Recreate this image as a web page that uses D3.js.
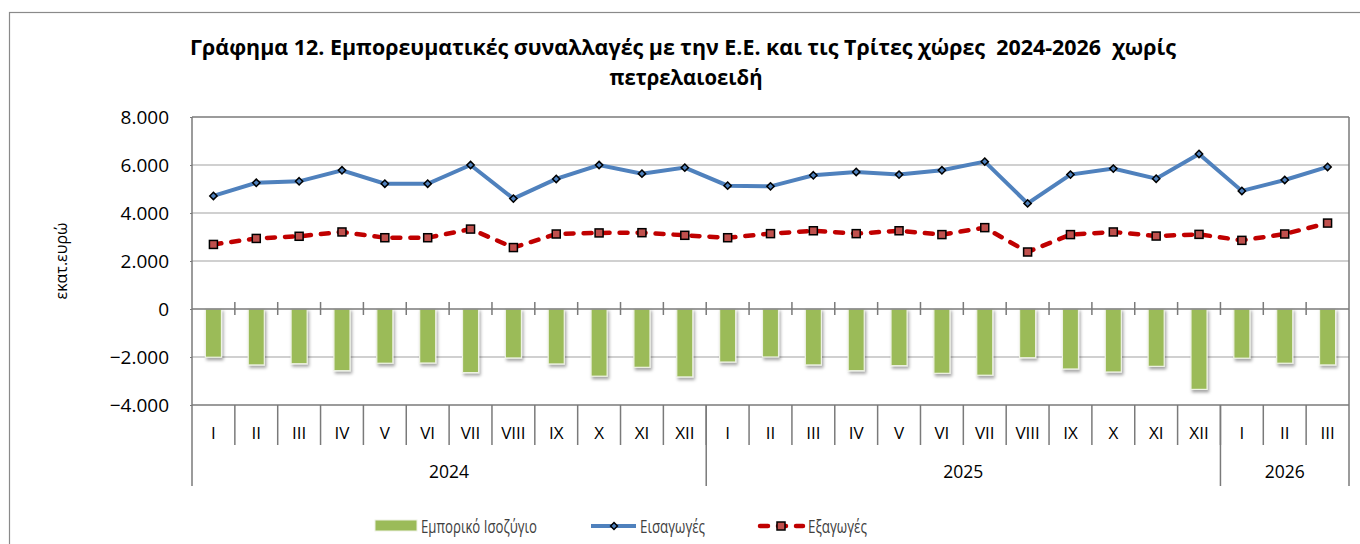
<!DOCTYPE html>
<html><head><meta charset="utf-8">
<script src="https://cdn.jsdelivr.net/npm/d3@7"></script>
<style>body{margin:0;background:#fff;}svg{display:block;font-family:"Open Sans","Noto Sans",sans-serif;}text{white-space:pre;}</style>
</head><body>
<svg id="c" width="1360" height="544"></svg>
<script>
const months = ["I","II","III","IV","V","VI","VII","VIII","IX","X","XI","XII","I","II","III","IV","V","VI","VII","VIII","IX","X","XI","XII","I","II","III"];
const years = ["2024","2025","2026"];
const yearCounts = [12,12,3];
const imports = [4710,5260,5320,5780,5220,5220,6000,4600,5420,6000,5640,5890,5140,5110,5570,5710,5600,5780,6140,4400,5600,5850,5430,6460,4920,5375,5920];
const exportsV = [2690,2940,3030,3210,2970,2970,3330,2560,3125,3170,3180,3070,2970,3140,3260,3140,3260,3100,3390,2375,3100,3210,3040,3110,2860,3125,3580];
const balance = [-2010,-2330,-2280,-2570,-2260,-2250,-2650,-2040,-2290,-2800,-2430,-2830,-2210,-2000,-2330,-2570,-2360,-2680,-2760,-2030,-2500,-2625,-2390,-3350,-2050,-2260,-2330];
const yTicks = [-4000,-2000,0,2000,4000,6000,8000];
const titleLines = ["Γράφημα 12. Εμπορευματικές συναλλαγές με την Ε.Ε. και τις Τρίτες χώρες  2024-2026  χωρίς","πετρελαιοειδή"];
const yTitle = "εκατ.ευρώ";
const legendNames = ["Εμπορικό Ισοζύγιο","Εισαγωγές","Εξαγωγές"];

const svg = d3.select("#c");
const L=192, R=1349, T=117, B=405;
const x = d3.scaleBand().domain(d3.range(months.length)).range([L,R]).padding(0);
const y = d3.scaleLinear().domain([-4000,8000]).range([B,T]);
const fmt = v => v===0 ? "0" : d3.format(",")(v).replace(/,/g,".");

const defs = svg.append("defs");
const f = defs.append("filter").attr("id","sh").attr("x","-50%").attr("y","-20%").attr("width","200%").attr("height","150%");
f.append("feDropShadow").attr("dx",1.5).attr("dy",2.5).attr("stdDeviation",1.6).attr("flood-color","#000").attr("flood-opacity",0.35);

// outer frame
svg.append("rect").attr("x",9.5).attr("y",12.5).attr("width",1400).attr("height",600).attr("fill","none").attr("stroke","#8a8a8a").attr("stroke-width",1.2);

// title
titleLines.forEach((t,i)=>{
  svg.append("text").attr("x",i===0?683:686).attr("y",i===0?55:85).attr("text-anchor","middle")
    .attr("font-weight","bold").attr("font-size",21).attr("fill","#000")
    .attr("textLength", i===0?986:153).attr("lengthAdjust","spacingAndGlyphs").text(t);
});

// gridlines
svg.append("g").selectAll("line").data(yTicks.filter(v=>v!==0 && v!==-4000 && v!==8000)).join("line")
  .attr("x1",L).attr("x2",R).attr("y1",d=>y(d)).attr("y2",d=>y(d)).attr("stroke","#c0c0c0").attr("stroke-width",1.3);

// plot border top & right
svg.append("line").attr("x1",L).attr("x2",R).attr("y1",T).attr("y2",T).attr("stroke","#7a7a7a").attr("stroke-width",1.5);
svg.append("line").attr("x1",R).attr("x2",R).attr("y1",T).attr("y2",486).attr("stroke","#7a7a7a").attr("stroke-width",1.5);

// y axis
const ya = svg.append("g").attr("transform",`translate(${L},0)`).call(d3.axisLeft(y).tickValues(yTicks).tickFormat(fmt).tickSize(2).tickPadding(21));
ya.select(".domain").remove();
ya.selectAll("line").attr("stroke","#7a7a7a");
ya.selectAll("text").attr("font-size",19).attr("fill","#000").attr("font-family","Open Sans");
svg.append("line").attr("x1",L).attr("x2",L).attr("y1",T).attr("y2",486).attr("stroke","#7a7a7a").attr("stroke-width",1.5);

// y title
svg.append("text").attr("transform","translate(67,261) rotate(-90)").attr("text-anchor","middle").attr("font-size",16).attr("fill","#000").text(yTitle);

// bars
const bw = x.bandwidth()*0.375;
svg.append("g").selectAll("rect").data(balance).join("rect")
  .attr("x",(d,i)=>x(i)+(x.bandwidth()-bw)/2).attr("width",bw)
  .attr("y",d=>y(Math.max(0,d))).attr("height",d=>Math.abs(y(d)-y(0)))
  .attr("fill","#9bbb59").attr("stroke","#eef2e4").attr("stroke-width",1.2).attr("filter","url(#sh)");

// zero axis
svg.append("line").attr("x1",L).attr("x2",R).attr("y1",y(0)).attr("y2",y(0)).attr("stroke","#7a7a7a").attr("stroke-width",1.5);
svg.append("g").selectAll("line").data(d3.range(1,months.length)).join("line")
  .attr("x1",i=>x(i)).attr("x2",i=>x(i)).attr("y1",y(0)-7).attr("y2",y(0)+6).attr("stroke","#7a7a7a").attr("stroke-width",1.5);

// bottom category box
svg.append("line").attr("x1",L).attr("x2",R).attr("y1",B).attr("y2",B).attr("stroke","#7a7a7a").attr("stroke-width",1.5);
svg.append("g").selectAll("line").data(d3.range(1,months.length)).join("line")
  .attr("x1",i=>x(i)).attr("x2",i=>x(i)).attr("y1",B).attr("y2",445).attr("stroke","#7a7a7a").attr("stroke-width",1.5);
let acc=0; const yb=[];
yearCounts.forEach((c,k)=>{ yb.push({s:acc,e:acc+c,label:years[k]}); acc+=c; });
svg.append("g").selectAll("line").data(yb.slice(1)).join("line")
  .attr("x1",d=>x(d.s)).attr("x2",d=>x(d.s)).attr("y1",B).attr("y2",486).attr("stroke","#7a7a7a").attr("stroke-width",1.5);
svg.append("g").selectAll("text").data(months).join("text")
  .attr("x",(d,i)=>x(i)+x.bandwidth()/2).attr("y",439).attr("text-anchor","middle").attr("font-size",17).attr("fill","#000").text(d=>d);
svg.append("g").selectAll("text").data(yb).join("text")
  .attr("x",d=>(x(d.s)+ (d.e<months.length?x(d.e):R))/2).attr("y",478).attr("text-anchor","middle").attr("font-size",17.5).attr("fill","#000").text(d=>d.label);

// lines
const line = d3.line().x((d,i)=>x(i)+x.bandwidth()/2).y(d=>y(d));
svg.append("path").datum(exportsV).attr("d",line).attr("fill","none").attr("stroke","#c00000").attr("stroke-width",4.5).attr("stroke-dasharray","8,10").attr("stroke-linecap","round");
svg.append("path").datum(imports).attr("d",line).attr("fill","none").attr("stroke","#4f81bd").attr("stroke-width",4);
svg.append("g").selectAll("rect").data(exportsV).join("rect")
  .attr("x",(d,i)=>x(i)+x.bandwidth()/2-4).attr("y",d=>y(d)-4).attr("width",8).attr("height",8)
  .attr("fill","#c0504d").attr("stroke","#000").attr("stroke-width",1.5);
svg.append("g").selectAll("path").data(imports).join("path")
  .attr("d",d3.symbol(d3.symbolDiamond2,34)).attr("transform",(d,i)=>`translate(${x(i)+x.bandwidth()/2},${y(d)})`)
  .attr("fill","#4f81bd").attr("stroke","#000").attr("stroke-width",1.5);

// legend
const lg = svg.append("g");
lg.append("rect").attr("x",375).attr("y",520).attr("width",42).attr("height",11).attr("fill","#9bbb59").attr("stroke","#eef2e4");
lg.append("text").attr("x",421).attr("y",533).attr("font-size",19).attr("fill","#404040").attr("textLength",116).attr("lengthAdjust","spacingAndGlyphs").text(legendNames[0]);
lg.append("line").attr("x1",591).attr("x2",636).attr("y1",526).attr("y2",526).attr("stroke","#4f81bd").attr("stroke-width",4);
lg.append("path").attr("d",d3.symbol(d3.symbolDiamond2,30)).attr("transform","translate(614,526)").attr("fill","#4f81bd").attr("stroke","#000").attr("stroke-width",1.5);
lg.append("text").attr("x",640).attr("y",533).attr("font-size",19).attr("fill","#404040").attr("textLength",65).attr("lengthAdjust","spacingAndGlyphs").text(legendNames[1]);
lg.append("line").attr("x1",760).attr("x2",803).attr("y1",526).attr("y2",526).attr("stroke","#c00000").attr("stroke-width",4.5).attr("stroke-dasharray","8,10").attr("stroke-linecap","round");
lg.append("rect").attr("x",777).attr("y",522).attr("width",8).attr("height",8).attr("fill","#c0504d").attr("stroke","#000").attr("stroke-width",1.5);
lg.append("text").attr("x",808).attr("y",533).attr("font-size",19).attr("fill","#404040").attr("textLength",59).attr("lengthAdjust","spacingAndGlyphs").text(legendNames[2]);
</script>
</body></html>
